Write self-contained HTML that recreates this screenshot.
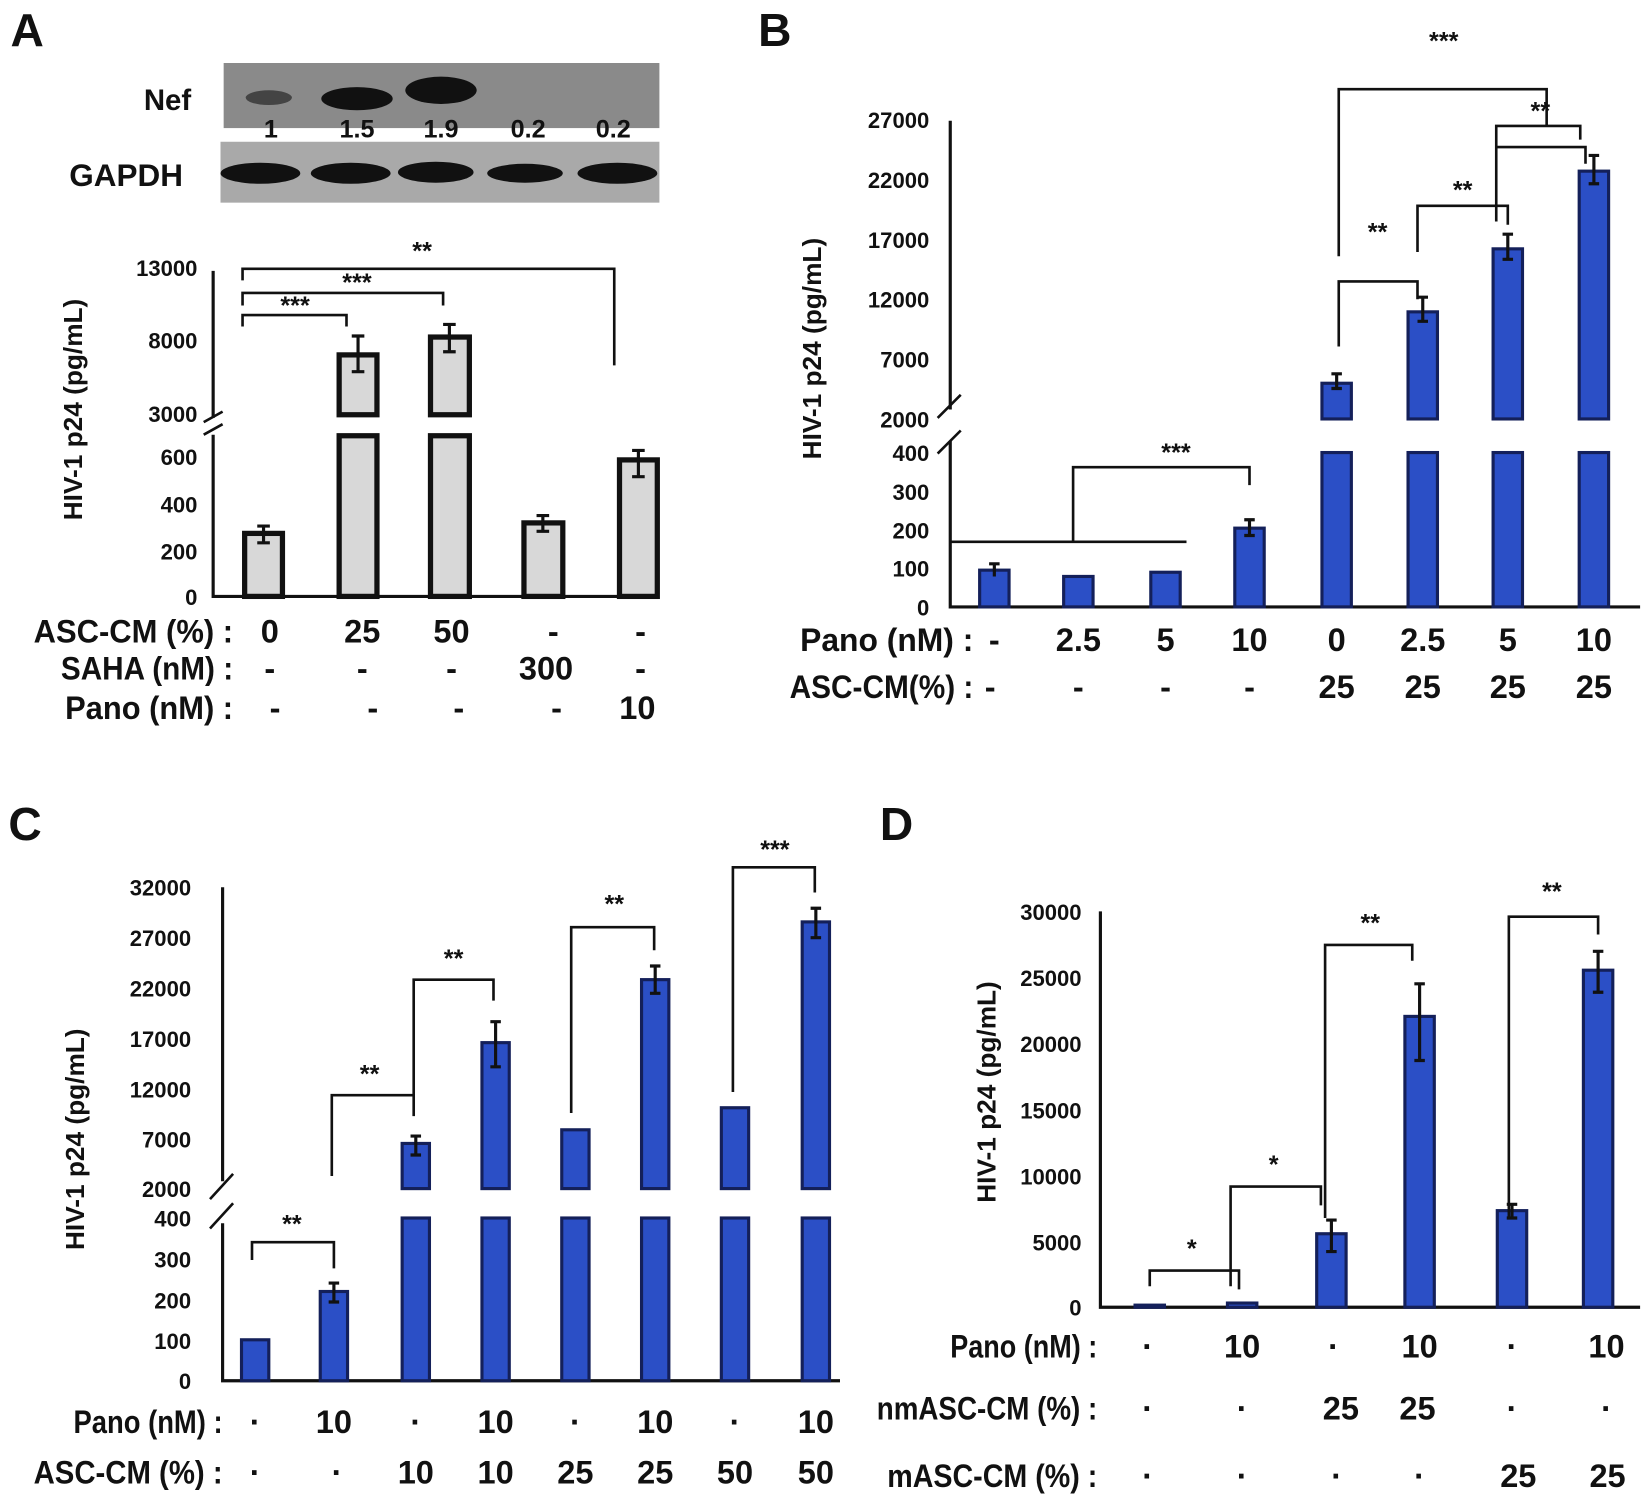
<!DOCTYPE html>
<html><head><meta charset="utf-8"><style>
html,body{margin:0;padding:0;background:#fff}
svg{display:block}
.t{font-family:"Liberation Sans",sans-serif;font-weight:bold;font-size:21px;fill:#111}
.c{font-family:"Liberation Sans Narrow","Liberation Sans",sans-serif;font-weight:bold;font-size:31px;fill:#111}
.p{font-family:"Liberation Sans Narrow","Liberation Sans",sans-serif;font-weight:bold;font-size:44px;fill:#111}
.y{font-family:"Liberation Sans",sans-serif;font-weight:bold;font-size:25px;fill:#111}
.s{font-family:"Liberation Sans",sans-serif;font-weight:bold;font-size:24px;fill:#111}
.ax{stroke:#111;stroke-width:3;fill:none}
.br{stroke:#111;stroke-width:2.5;fill:none}
.bb{fill:#2b4fc6;stroke:#14205a;stroke-width:3}
.bw{fill:#d8d8d8;stroke:#111;stroke-width:5}
.e{stroke:#111;stroke-width:3}
</style></head><body>
<svg width="1650" height="1507" viewBox="0 0 1650 1507" xmlns="http://www.w3.org/2000/svg">
<g transform="scale(1.05)">
<text class="p" x="10" y="44">A</text>
<rect x="213" y="60" width="415" height="62" fill="#8a8a8a"/>
<rect x="210" y="135" width="418" height="58" fill="#a9a9a9"/>
<ellipse cx="256" cy="93" rx="22" ry="7" fill="#444"/>
<ellipse cx="340" cy="94" rx="34" ry="11" fill="#111"/>
<ellipse cx="420" cy="86" rx="34" ry="13" fill="#111"/>
<ellipse cx="248" cy="165" rx="38" ry="10" fill="#111"/>
<ellipse cx="334" cy="165" rx="38" ry="10" fill="#111"/>
<ellipse cx="415" cy="164" rx="36" ry="10" fill="#111"/>
<ellipse cx="500" cy="165" rx="36" ry="9" fill="#111"/>
<ellipse cx="588" cy="165" rx="38" ry="10" fill="#111"/>
<text class="t" x="137" y="105" style="font-size:28px">Nef</text>
<text class="t" x="66" y="177" style="font-size:30px">GAPDH</text>
<g class="t" style="font-size:24px" text-anchor="middle">
<text x="258" y="131">1</text><text x="340" y="131">1.5</text><text x="420" y="131">1.9</text><text x="503" y="131">0.2</text><text x="584" y="131">0.2</text></g>
<path class="ax" d="M203 258 V398 M203 414 V568 H628"/>
<path class="br" d="M194 402 L212 392 M194 414 L212 404"/>
<g class="t" text-anchor="end">
<text x="188" y="263">13000</text><text x="188" y="332">8000</text><text x="188" y="402">3000</text>
<text x="188" y="443">600</text><text x="188" y="488">400</text><text x="188" y="533">200</text><text x="188" y="576">0</text></g>
<text class="y" transform="translate(78,390) rotate(-90)" text-anchor="middle">HIV-1 p24 (pg/mL)</text>
<rect class="bw" x="233" y="508" width="36" height="60"/>
<rect class="bw" x="323" y="338" width="36" height="57"/>
<rect class="bw" x="323" y="415" width="36" height="153"/>
<rect class="bw" x="410" y="321" width="37" height="74"/>
<rect class="bw" x="410" y="415" width="37" height="153"/>
<rect class="bw" x="499" y="498" width="37" height="70"/>
<rect class="bw" x="590" y="438" width="36" height="130"/>
<path class="e" d="M251 501V517M245 501H257M245 517H257 M341 320V354M335 320H347M335 354H347 M428 309V335M422 309H434M422 335H434 M517 491V506M511 491H523M511 506H523 M608 429V454M602 429H614M602 454H614"/>
<path class="br" d="M231 267V256H585V348 M231 291V279H422V291 M231 311V300H330V311"/>
<text class="s" x="402" y="247" text-anchor="middle">**</text>
<text class="s" x="340" y="277" text-anchor="middle">***</text>
<text class="s" x="281" y="299" text-anchor="middle">***</text>
<g class="c" text-anchor="middle">
<text x="257" y="612">0</text><text x="345" y="612">25</text><text x="430" y="612">50</text><text x="527" y="612">-</text><text x="610" y="612">-</text>
<text x="257" y="647">-</text><text x="345" y="647">-</text><text x="430" y="647">-</text><text x="520" y="647">300</text><text x="610" y="647">-</text>
<text x="262" y="685">-</text><text x="355" y="685">-</text><text x="437" y="685">-</text><text x="530" y="685">-</text><text x="607" y="685">10</text></g>
<g class="c" text-anchor="end">
<text x="222" y="612" textLength="190" lengthAdjust="spacingAndGlyphs">ASC-CM (%) :</text>
<text x="222" y="647" textLength="164" lengthAdjust="spacingAndGlyphs">SAHA (nM) :</text>
<text x="222" y="685" textLength="160" lengthAdjust="spacingAndGlyphs">Pano (nM) :</text></g>

<text class="p" x="722" y="44">B</text>
<path class="ax" d="M905 115 V390 M905 420 V578 H1562"/>
<path class="br" d="M893 398 L915 376 M893 432 L915 410"/>
<g class="t" text-anchor="end">
<text x="885" y="122">27000</text><text x="885" y="179">22000</text><text x="885" y="236">17000</text><text x="885" y="293">12000</text>
<text x="885" y="350">7000</text><text x="885" y="407">2000</text><text x="885" y="439">400</text><text x="885" y="476">300</text>
<text x="885" y="513">200</text><text x="885" y="549">100</text><text x="885" y="586">0</text></g>
<text class="y" transform="translate(782,332) rotate(-90)" text-anchor="middle">HIV-1 p24 (pg/mL)</text>
<rect class="bb" x="933" y="543" width="28" height="35"/>
<rect class="bb" x="1013" y="549" width="28" height="29"/>
<rect class="bb" x="1096" y="545" width="28" height="33"/>
<rect class="bb" x="1176" y="503" width="28" height="75"/>
<rect class="bb" x="1259" y="365" width="28" height="34"/><rect class="bb" x="1259" y="431" width="28" height="147"/>
<rect class="bb" x="1341" y="297" width="28" height="102"/><rect class="bb" x="1341" y="431" width="28" height="147"/>
<rect class="bb" x="1422" y="237" width="28" height="162"/><rect class="bb" x="1422" y="431" width="28" height="147"/>
<rect class="bb" x="1504" y="163" width="28" height="236"/><rect class="bb" x="1504" y="431" width="28" height="147"/>
<path class="e" d="M947 537V549M942 537H952 M1190 495V510M1185 495H1195M1185 510H1195 M1273 356V370M1268 356H1278M1268 370H1278 M1355 283V306M1350 283H1360M1350 306H1360 M1436 223V247M1431 223H1441M1431 247H1441 M1518 148V175M1513 148H1523M1513 175H1523"/>
<path class="br" d="M905 516H1130 M1022 516V445H1190V462"/>
<text class="s" x="1120" y="439" text-anchor="middle">***</text>
<path class="br" d="M1275 330V268H1350V285 M1350 240V196H1436V214 M1425 211V140H1510V156 M1275 244V85H1473V120 M1425 140V120H1505V133"/>
<text class="s" x="1312" y="229" text-anchor="middle">**</text>
<text class="s" x="1393" y="189" text-anchor="middle">**</text>
<text class="s" x="1467" y="114" text-anchor="middle">**</text>
<text class="s" x="1375" y="47" text-anchor="middle">***</text>
<g class="c" text-anchor="middle">
<text x="947" y="620">-</text><text x="1027" y="620">2.5</text><text x="1110" y="620">5</text><text x="1190" y="620">10</text>
<text x="1273" y="620">0</text><text x="1355" y="620">2.5</text><text x="1436" y="620">5</text><text x="1518" y="620">10</text>
<text x="943" y="665">-</text><text x="1027" y="665">-</text><text x="1110" y="665">-</text><text x="1190" y="665">-</text>
<text x="1273" y="665">25</text><text x="1355" y="665">25</text><text x="1436" y="665">25</text><text x="1518" y="665">25</text></g>
<g class="c" text-anchor="end">
<text x="927" y="620" textLength="165" lengthAdjust="spacingAndGlyphs">Pano (nM) :</text>
<text x="927" y="665" textLength="175" lengthAdjust="spacingAndGlyphs">ASC-CM(%) :</text></g>

<text class="p" x="8" y="800">C</text>
<path class="ax" d="M212 845 V1125 M212 1165 V1315 H800"/>
<path class="br" d="M200 1142 L222 1118 M200 1170 L222 1146"/>
<g class="t" text-anchor="end">
<text x="182" y="853">32000</text><text x="182" y="901">27000</text><text x="182" y="949">22000</text><text x="182" y="997">17000</text>
<text x="182" y="1045">12000</text><text x="182" y="1093">7000</text><text x="182" y="1140">2000</text><text x="182" y="1168">400</text>
<text x="182" y="1207">300</text><text x="182" y="1246">200</text><text x="182" y="1285">100</text><text x="182" y="1323">0</text></g>
<text class="y" transform="translate(80,1085) rotate(-90)" text-anchor="middle">HIV-1 p24 (pg/mL)</text>
<rect class="bb" x="230" y="1276" width="26" height="39"/>
<rect class="bb" x="305" y="1230" width="26" height="85"/>
<rect class="bb" x="383" y="1089" width="26" height="43"/><rect class="bb" x="383" y="1160" width="26" height="155"/>
<rect class="bb" x="459" y="993" width="26" height="139"/><rect class="bb" x="459" y="1160" width="26" height="155"/>
<rect class="bb" x="535" y="1076" width="26" height="56"/><rect class="bb" x="535" y="1160" width="26" height="155"/>
<rect class="bb" x="611" y="933" width="26" height="199"/><rect class="bb" x="611" y="1160" width="26" height="155"/>
<rect class="bb" x="687" y="1055" width="26" height="77"/><rect class="bb" x="687" y="1160" width="26" height="155"/>
<rect class="bb" x="764" y="878" width="26" height="254"/><rect class="bb" x="764" y="1160" width="26" height="155"/>
<path class="e" d="M318 1222V1240M313 1222H323M313 1240H323 M396 1082V1100M391 1082H401M391 1100H401 M472 973V1016M467 973H477M467 1016H477 M624 920V946M619 920H629M619 946H629 M777 865V893M772 865H782M772 893H782"/>
<path class="br" d="M240 1200V1183H318V1208 M316 1120V1043H394V1063 M394 1060V933H470V953 M544 1060V883H623V905 M698 1040V826H776V850"/>
<text class="s" x="278" y="1174" text-anchor="middle">**</text>
<text class="s" x="352" y="1031" text-anchor="middle">**</text>
<text class="s" x="432" y="921" text-anchor="middle">**</text>
<text class="s" x="585" y="869" text-anchor="middle">**</text>
<text class="s" x="738" y="817" text-anchor="middle">***</text>
<g class="c" text-anchor="middle">
<text x="243" y="1365">·</text><text x="318" y="1365">10</text><text x="396" y="1365">·</text><text x="472" y="1365">10</text>
<text x="548" y="1365">·</text><text x="624" y="1365">10</text><text x="700" y="1365">·</text><text x="777" y="1365">10</text>
<text x="243" y="1413">·</text><text x="321" y="1413">·</text><text x="396" y="1413">10</text><text x="472" y="1413">10</text>
<text x="548" y="1413">25</text><text x="624" y="1413">25</text><text x="700" y="1413">50</text><text x="777" y="1413">50</text></g>
<g class="c" text-anchor="end">
<text x="212" y="1365" textLength="142" lengthAdjust="spacingAndGlyphs">Pano (nM) :</text>
<text x="212" y="1413" textLength="180" lengthAdjust="spacingAndGlyphs">ASC-CM (%) :</text></g>

<text class="p" x="838" y="800">D</text>
<path class="ax" d="M1048 868 V1245 H1562"/>
<g class="t" text-anchor="end">
<text x="1030" y="876">30000</text><text x="1030" y="939">25000</text><text x="1030" y="1002">20000</text><text x="1030" y="1065">15000</text>
<text x="1030" y="1128">10000</text><text x="1030" y="1191">5000</text><text x="1030" y="1253">0</text></g>
<text class="y" transform="translate(948,1040) rotate(-90)" text-anchor="middle">HIV-1 p24 (pg/mL)</text>
<rect class="bb" x="1081" y="1243" width="28" height="2"/>
<rect class="bb" x="1169" y="1241" width="28" height="4"/>
<rect class="bb" x="1254" y="1175" width="28" height="70"/>
<rect class="bb" x="1338" y="968" width="28" height="277"/>
<rect class="bb" x="1426" y="1153" width="28" height="92"/>
<rect class="bb" x="1508" y="924" width="28" height="321"/>
<path class="e" d="M1268 1162V1192M1263 1162H1273M1263 1192H1273 M1352 937V1010M1347 937H1357M1347 1010H1357 M1440 1147V1160M1435 1147H1445M1435 1160H1445 M1522 906V945M1517 906H1527M1517 945H1527"/>
<path class="br" d="M1095 1225V1210H1180V1228 M1172 1225V1130H1258V1148 M1262 1160V900H1345V915 M1437 1160V873H1522V890"/>
<text class="s" x="1135" y="1197" text-anchor="middle">*</text>
<text class="s" x="1213" y="1117" text-anchor="middle">*</text>
<text class="s" x="1305" y="887" text-anchor="middle">**</text>
<text class="s" x="1478" y="857" text-anchor="middle">**</text>
<g class="c" text-anchor="middle">
<text x="1093" y="1293">·</text><text x="1183" y="1293">10</text><text x="1270" y="1293">·</text><text x="1352" y="1293">10</text><text x="1440" y="1293">·</text><text x="1530" y="1293">10</text>
<text x="1093" y="1352">·</text><text x="1183" y="1352">·</text><text x="1277" y="1352">25</text><text x="1350" y="1352">25</text><text x="1440" y="1352">·</text><text x="1530" y="1352">·</text>
<text x="1093" y="1416">·</text><text x="1183" y="1416">·</text><text x="1273" y="1416">·</text><text x="1352" y="1416">·</text><text x="1446" y="1416">25</text><text x="1531" y="1416">25</text></g>
<g class="c" text-anchor="end">
<text x="1045" y="1293" textLength="140" lengthAdjust="spacingAndGlyphs">Pano (nM) :</text>
<text x="1045" y="1352" textLength="210" lengthAdjust="spacingAndGlyphs">nmASC-CM (%) :</text>
<text x="1045" y="1416" textLength="200" lengthAdjust="spacingAndGlyphs">mASC-CM (%) :</text></g>
</g>
</svg>
</body></html>
